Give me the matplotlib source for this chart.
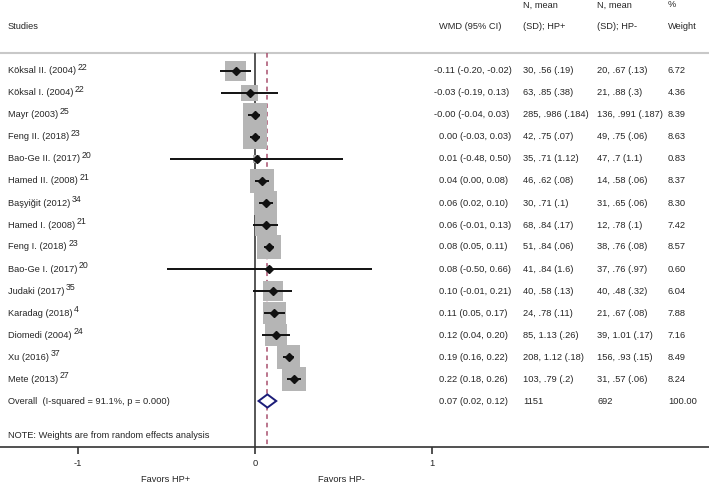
import matplotlib
matplotlib.use("Agg")
import matplotlib.pyplot as plt

plt.rcParams['font.family'] = ['Liberation Sans', 'DejaVu Sans']

# data
studies = ["Köksal II. (2004)", "Köksal I. (2004)", "Mayr (2003)", "Feng II. (2018)",
           "Bao-Ge II. (2017)", "Hamed II. (2008)", "Başyiğit (2012)", "Hamed I. (2008)",
           "Feng I. (2018)", "Bao-Ge I. (2017)", "Judaki (2017)", "Karadag (2018)",
           "Diomedi (2004)", "Xu (2016)", "Mete (2013)"]
refs = ["22", "22", "25", "23", "20", "21", "34", "21", "23", "20", "35", "4", "24", "37", "27"]
wmd = [-0.11, -0.03, -0.00, 0.00, 0.01, 0.04, 0.06, 0.06, 0.08, 0.08, 0.10, 0.11, 0.12, 0.19, 0.22]
ci_lo = [-0.20, -0.19, -0.04, -0.03, -0.48, 0.00, 0.02, -0.01, 0.05, -0.50, -0.01, 0.05, 0.04, 0.16, 0.18]
ci_hi = [-0.02, 0.13, 0.03, 0.03, 0.50, 0.08, 0.10, 0.13, 0.11, 0.66, 0.21, 0.17, 0.20, 0.22, 0.26]
hp_pos = ["30, .56 (.19)", "63, .85 (.38)", "285, .986 (.184)", "42, .75 (.07)", "35, .71 (1.12)",
          "46, .62 (.08)", "30, .71 (.1)", "68, .84 (.17)", "51, .84 (.06)", "41, .84 (1.6)",
          "40, .58 (.13)", "24, .78 (.11)", "85, 1.13 (.26)", "208, 1.12 (.18)", "103, .79 (.2)"]
hp_neg = ["20, .67 (.13)", "21, .88 (.3)", "136, .991 (.187)", "49, .75 (.06)", "47, .7 (1.1)",
          "14, .58 (.06)", "31, .65 (.06)", "12, .78 (.1)", "38, .76 (.08)", "37, .76 (.97)",
          "40, .48 (.32)", "21, .67 (.08)", "39, 1.01 (.17)", "156, .93 (.15)", "31, .57 (.06)"]
weights = [6.72, 4.36, 8.39, 8.63, 0.83, 8.37, 8.30, 7.42, 8.57, 0.60, 6.04, 7.88, 7.16, 8.49, 8.24]

overall = 0.07
overall_lo = 0.02
overall_hi = 0.12
overall_label = "Overall  (I-squared = 91.1%, p = 0.000)"
overall_n_pos = "1151"
overall_n_neg = "692"
overall_weight = "100.00"

W, H = 709, 483
fig = plt.figure(figsize=(W / 100, H / 100), dpi=100)
ax = fig.add_axes([0, 0, 1, 1])

# pixel -> data mapping (0 at x=255px, 177px per unit; rows 22px apart from y=71px)
ax.set_xlim(-255 / 177, (W - 255) / 177)
ax.set_ylim((H - 71) / 22, -71 / 22)

txt = '#262626'
fs = 6.65
n = len(studies)
rows = list(range(n))
r_over = n
r_note = 16.55
r_axis = 17.09
r_sep = -0.82


def colx(px):
    return px / W


tr = ax.get_yaxis_transform()


def put(px, y, s, **kw):
    return ax.text(colx(px), y, s, transform=tr, fontsize=fs, color=txt, va='center', **kw)


# headers
put(8, -2.0, "Studies")
put(439, -2.0, "WMD (95% CI)")
put(523, -3.0, "N, mean")
put(523, -2.0, "(SD); HP+")
put(597, -3.0, "N, mean")
put(597, -2.0, "(SD); HP-")
put(668, -3.0, "%")
put(668, -2.0, "Weight")

ax.axhline(r_sep, color='#c8c8c8', lw=1.5)

# reference lines
ax.vlines(0, r_sep, r_axis, color='#3a3a3a', lw=1.2)
ax.vlines(overall, r_sep, r_axis, color='#a8506e', lw=1.1, linestyles=(0, (3, 2.5)))

# study boxes, CIs, point estimates
ax.scatter(wmd, rows, s=[34 * w for w in weights], marker='s', color='#b5b5b5', zorder=2, linewidths=0)
ax.hlines(rows, ci_lo, ci_hi, color='#111111', lw=1.4, zorder=3)
ax.plot(wmd, rows, 'D', color='#111111', markersize=3.6, zorder=4)

# pooled diamond
ax.fill([overall_lo, overall, overall_hi, overall], [r_over, r_over - 0.3, r_over, r_over + 0.3],
        facecolor='white', edgecolor='#1c1c78', lw=1.4, zorder=4)

for i in rows:
    t = put(8, i, studies[i])
    ax.annotate(refs[i], xy=(1, 0.85), xycoords=t, xytext=(1.2, 0), textcoords='offset points',
                fontsize=fs * 0.95, color=txt, va='center', ha='left')
    label = "%.2f (%.2f, %.2f)" % (wmd[i], ci_lo[i], ci_hi[i])
    put(439 if label[0] != '-' else 434, i, label)
    put(523, i, hp_pos[i])
    put(597, i, hp_neg[i])
    put(668, i, "%.2f" % weights[i])

put(8, r_over, overall_label)
put(439, r_over, "%.2f (%.2f, %.2f)" % (overall, overall_lo, overall_hi))
put(523, r_over, overall_n_pos)
put(597, r_over, overall_n_neg)
put(668, r_over, overall_weight)

put(8, r_note, "NOTE: Weights are from random effects analysis")

# x axis
for s in ['top', 'left', 'right']:
    ax.spines[s].set_visible(False)
ax.spines['bottom'].set_position(('data', r_axis))
ax.spines['bottom'].set_color('#333333')
ax.spines['bottom'].set_linewidth(1.2)
ax.set_yticks([])
ax.set_xticks([-1, 0, 1])
ax.set_xticklabels(['-1', '0', '1'])
ax.tick_params(axis='x', direction='out', length=5, width=1.2, color='#333333',
               labelsize=fs, labelcolor=txt, pad=4)

ax.text(-0.508, 18.55, "Favors HP+", fontsize=fs, color=txt, ha='center', va='center')
ax.text(0.486, 18.55, "Favors HP-", fontsize=fs, color=txt, ha='center', va='center')

fig.savefig("out.png", dpi=100, facecolor='white')
